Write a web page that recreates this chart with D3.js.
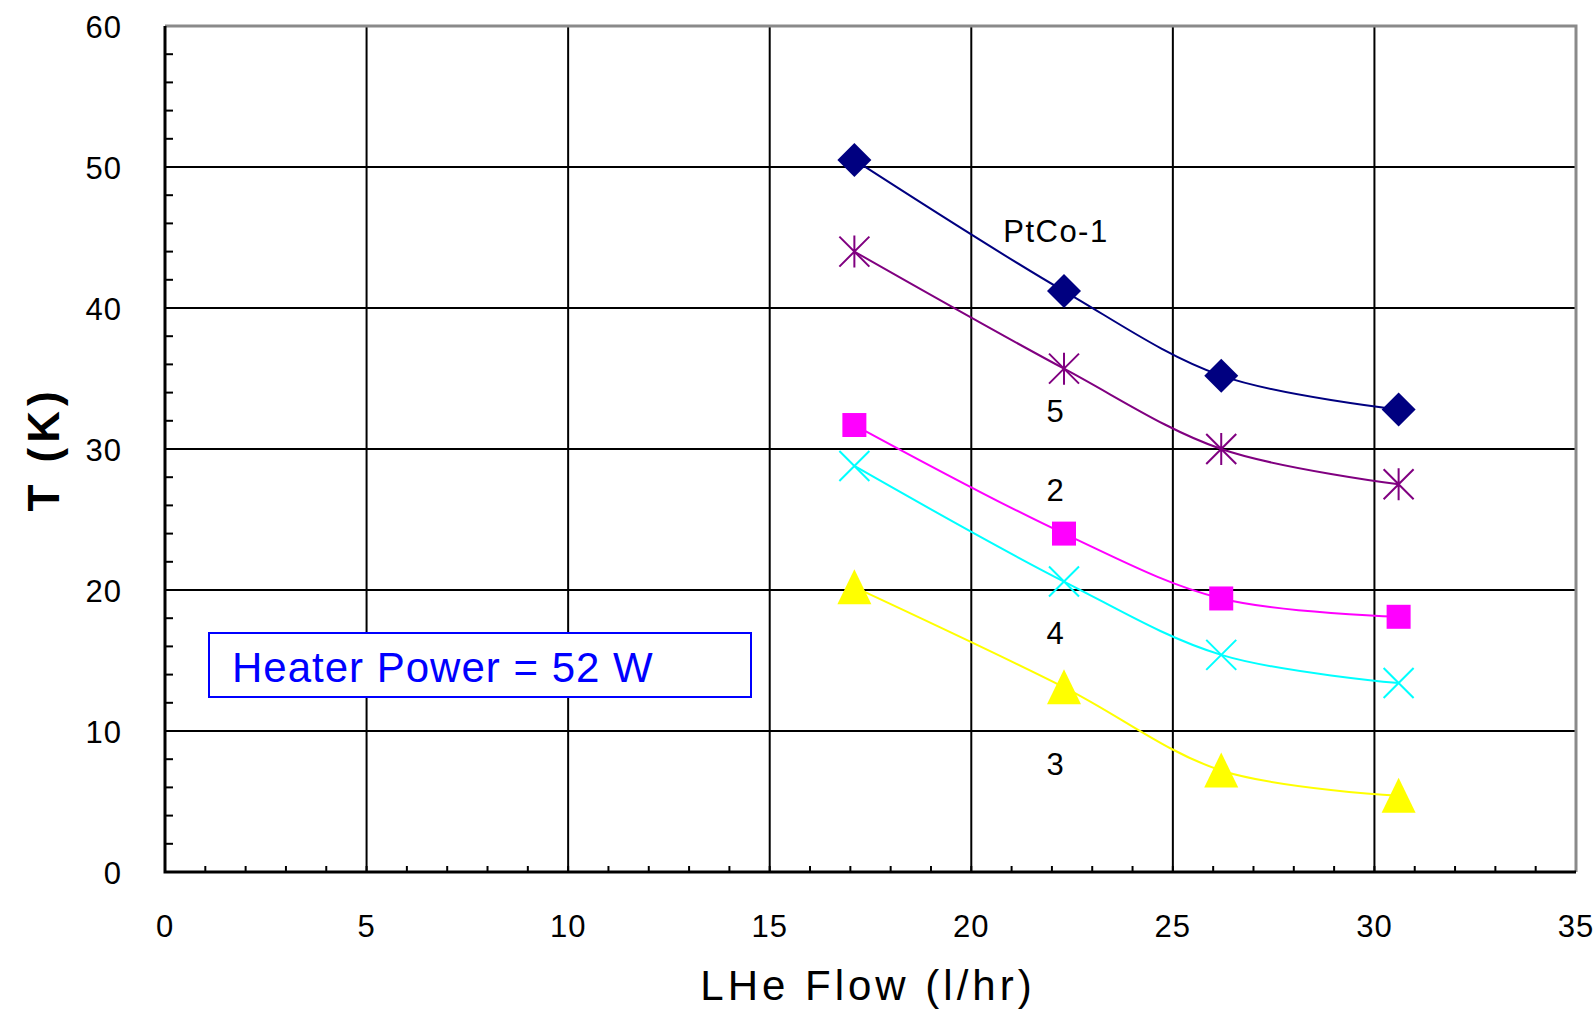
<!DOCTYPE html>
<html>
<head>
<meta charset="utf-8">
<script src="https://cdn.jsdelivr.net/npm/d3@7"></script>
<style>
  html, body { margin: 0; padding: 0; background: #fff; }
  svg { display: block; }
  text { font-family: "Liberation Sans", Arial, sans-serif; }
</style>
</head>
<body>
<svg class="svg"></svg>
<script>
// LHe flow (l/hr) at each measurement
const flows = [17.1, 22.3, 26.2, 30.6];

// temperatures (K) per sensor
const ptco1 = [50.5, 41.2, 35.2, 32.8];
const sensor5 = [44.0, 35.7, 30.0, 27.5];
const sensor2 = [31.7, 24.0, 19.4, 18.1];
const sensor4 = [28.8, 20.6, 15.4, 13.4];
const sensor3 = [20.2, 13.1, 7.2, 5.4];

const seriesNames = ['PtCo-1', '5', '2', '4', '3'];
// label positions in data units (x, y)
const labelX = [22.1, 22.1, 22.1, 22.1, 22.1];
const labelY = [44.7, 31.9, 26.3, 16.2, 6.9];

const xTicks = [0, 5, 10, 15, 20, 25, 30, 35];
const yTicks = [0, 10, 20, 30, 40, 50, 60];

const width = 1596;
const height = 1009;
const margin = { left: 165, right: 20, top: 26, bottom: 137 };

const series = [
  { name: seriesNames[0], values: ptco1, color: '#000080', marker: 'diamond' },
  { name: seriesNames[1], values: sensor5, color: '#800080', marker: 'star' },
  { name: seriesNames[2], values: sensor2, color: '#ff00ff', marker: 'square' },
  { name: seriesNames[3], values: sensor4, color: '#00ffff', marker: 'cross' },
  { name: seriesNames[4], values: sensor3, color: '#ffff00', marker: 'triangle' }
];

const svg = d3.select('.svg').attr('width', width).attr('height', height);

const x = d3.scaleLinear().domain([0, 35]).range([margin.left, width - margin.right]);
const y = d3.scaleLinear().domain([0, 60]).range([height - margin.bottom, margin.top]);

const g = svg.append('g');

// grid
g.append('g')
  .selectAll('line')
  .data(xTicks.filter(d => d > 0 && d < 35))
  .join('line')
  .attr('x1', d => x(d)).attr('x2', d => x(d))
  .attr('y1', y(0)).attr('y2', y(60))
  .attr('stroke', '#000').attr('stroke-width', 2);

g.append('g')
  .selectAll('line')
  .data(yTicks.filter(d => d > 0 && d < 60))
  .join('line')
  .attr('y1', d => y(d)).attr('y2', d => y(d))
  .attr('x1', x(0)).attr('x2', x(35))
  .attr('stroke', '#000').attr('stroke-width', 2);

// top / right frame (grey)
g.append('path')
  .attr('d', `M${x(0)},${y(60)}H${x(35)}V${y(0)}`)
  .attr('fill', 'none')
  .attr('stroke', '#8a8a8a')
  .attr('stroke-width', 3);

// minor ticks, pointing inward
g.append('g')
  .selectAll('line')
  .data(d3.range(1, 35))
  .join('line')
  .attr('x1', d => x(d)).attr('x2', d => x(d))
  .attr('y1', y(0)).attr('y2', y(0) - 6)
  .attr('stroke', '#000').attr('stroke-width', 2);

g.append('g')
  .selectAll('line')
  .data(d3.range(2, 60, 2))
  .join('line')
  .attr('y1', d => y(d)).attr('y2', d => y(d))
  .attr('x1', x(0)).attr('x2', x(0) + 8)
  .attr('stroke', '#000').attr('stroke-width', 2);

// axes lines
g.append('path')
  .attr('d', `M${x(0)},${y(60)}V${y(0)}H${x(35)}`)
  .attr('fill', 'none')
  .attr('stroke', '#000')
  .attr('stroke-width', 3);

// tick labels
g.append('g')
  .selectAll('text')
  .data(yTicks)
  .join('text')
  .attr('x', 122)
  .attr('y', d => y(d) + 12)
  .attr('text-anchor', 'end')
  .attr('font-size', 31)
  .attr('letter-spacing', 1)
  .attr('fill', '#000')
  .text(d => d);

g.append('g')
  .selectAll('text')
  .data(xTicks)
  .join('text')
  .attr('x', d => x(d))
  .attr('y', 937)
  .attr('text-anchor', 'middle')
  .attr('font-size', 31)
  .attr('letter-spacing', 1)
  .attr('fill', '#000')
  .text(d => d);

// axis titles
svg.append('text')
  .attr('transform', `translate(59,${y(30)}) rotate(-90)`)
  .attr('text-anchor', 'middle')
  .attr('font-size', 44)
  .attr('font-weight', 'bold')
  .attr('letter-spacing', 5)
  .text('T (K)');

svg.append('text')
  .attr('x', 868)
  .attr('y', 1000)
  .attr('text-anchor', 'middle')
  .attr('font-size', 42)
  .attr('letter-spacing', 4)
  .text('LHe Flow (l/hr)');

// heater power box
const box = svg.append('g');
box.append('rect')
  .attr('x', 209).attr('y', 633)
  .attr('width', 542).attr('height', 64)
  .attr('fill', '#fff')
  .attr('stroke', '#0000ff')
  .attr('stroke-width', 2);
box.append('text')
  .attr('x', 232).attr('y', 682)
  .attr('font-size', 42)
  .attr('letter-spacing', 1)
  .attr('fill', '#0000ff')
  .text('Heater Power = 52 W');

// series lines
const line = d3.line()
  .x((d, i) => x(flows[i]))
  .y(d => y(d))
  .curve(d3.curveCatmullRom.alpha(0.5));

const sg = g.append('g')
  .selectAll('g')
  .data(series)
  .join('g');

sg.append('path')
  .attr('d', d => line(d.values))
  .attr('fill', 'none')
  .attr('stroke', d => d.color)
  .attr('stroke-width', 2);

function markerPath(type) {
  switch (type) {
    case 'diamond': return 'M0,-17L17,0L0,17L-17,0Z';
    case 'square': return 'M-12,-12H12V12H-12Z';
    case 'triangle': return 'M0,-18L17,17H-17Z';
    case 'cross': return 'M-15,-15L15,15M15,-15L-15,15';
    case 'star': return 'M-15,-15L15,15M15,-15L-15,15M0,-16V16';
  }
}

sg.each(function (s) {
  const filled = s.marker === 'diamond' || s.marker === 'square' || s.marker === 'triangle';
  d3.select(this)
    .selectAll('path.mk')
    .data(s.values)
    .join('path')
    .attr('class', 'mk')
    .attr('transform', (d, i) => `translate(${x(flows[i])},${y(d)})`)
    .attr('d', markerPath(s.marker))
    .attr('fill', filled ? s.color : 'none')
    .attr('stroke', s.color)
    .attr('stroke-width', filled ? 0 : 2);
});

// series labels
g.append('g')
  .selectAll('text')
  .data(seriesNames)
  .join('text')
  .attr('x', (d, i) => x(labelX[i]))
  .attr('y', (d, i) => y(labelY[i]))
  .attr('text-anchor', 'middle')
  .attr('font-size', 31)
  .attr('letter-spacing', 1.5)
  .attr('fill', '#000')
  .text(d => d);
</script>
</body>
</html>
